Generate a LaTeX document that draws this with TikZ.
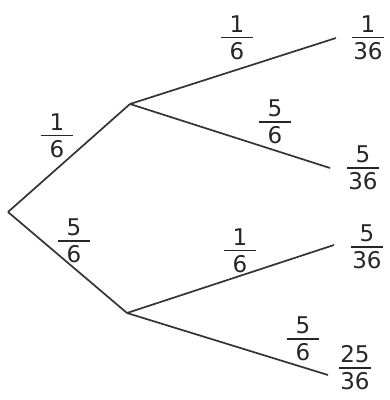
\documentclass[tikz,border=0pt]{standalone}
\usepackage{fontspec}
\setmainfont{DejaVu Sans}
\newcommand{\frc}[2]{\vbox{\hbox to 32pt{\hss#1\hss}\kern4pt\hrule height 1.6pt\kern4pt\hbox to 32pt{\hss#2\hss}}}
\tikzset{
  branch/.style={draw=black!80, line width=1.7pt},
  prob/.style={inner sep=0pt, text=black!85, font=\fontsize{23}{26}\selectfont}
}
\begin{document}
\begin{tikzpicture}[x=1pt, y=-1pt]
    \useasboundingbox (0,0) rectangle (390,400);

    % Points of the tree
    \coordinate (root) at (8,212);
    \coordinate (up) at (130,104);
    \coordinate (low) at (127,313);
    \coordinate (upup) at (336,38);
    \coordinate (updown) at (330,168);
    \coordinate (lowup) at (334,245);
    \coordinate (lowdown) at (328,375);

    % Branches
    \draw[branch] (root) -- (up);
    \draw[branch] (root) -- (low);
    \draw[branch] (up) -- (upup);
    \draw[branch] (up) -- (updown);
    \draw[branch] (low) -- (lowup);
    \draw[branch] (low) -- (lowdown);

    % First throw
    \node[prob] (p1) at (57,136) {\frc{1}{6}};
    \node[prob] (p2) at (74,241) {\frc{5}{6}};

    % Second throw
    \node[prob] (p3) at (237,38) {\frc{1}{6}};
    \node[prob] (p4) at (275,122) {\frc{5}{6}};
    \node[prob] (p5) at (240,251) {\frc{1}{6}};
    \node[prob] (p6) at (303,339) {\frc{5}{6}};

    % Outcomes
    \node[prob] (r1) at (368,38) {\frc{1}{36}};
    \node[prob] (r2) at (363,168) {\frc{5}{36}};
    \node[prob] (r3) at (367,247) {\frc{5}{36}};
    \node[prob] (r4) at (355,368) {\frc{25}{36}};
\end{tikzpicture}
\end{document}
